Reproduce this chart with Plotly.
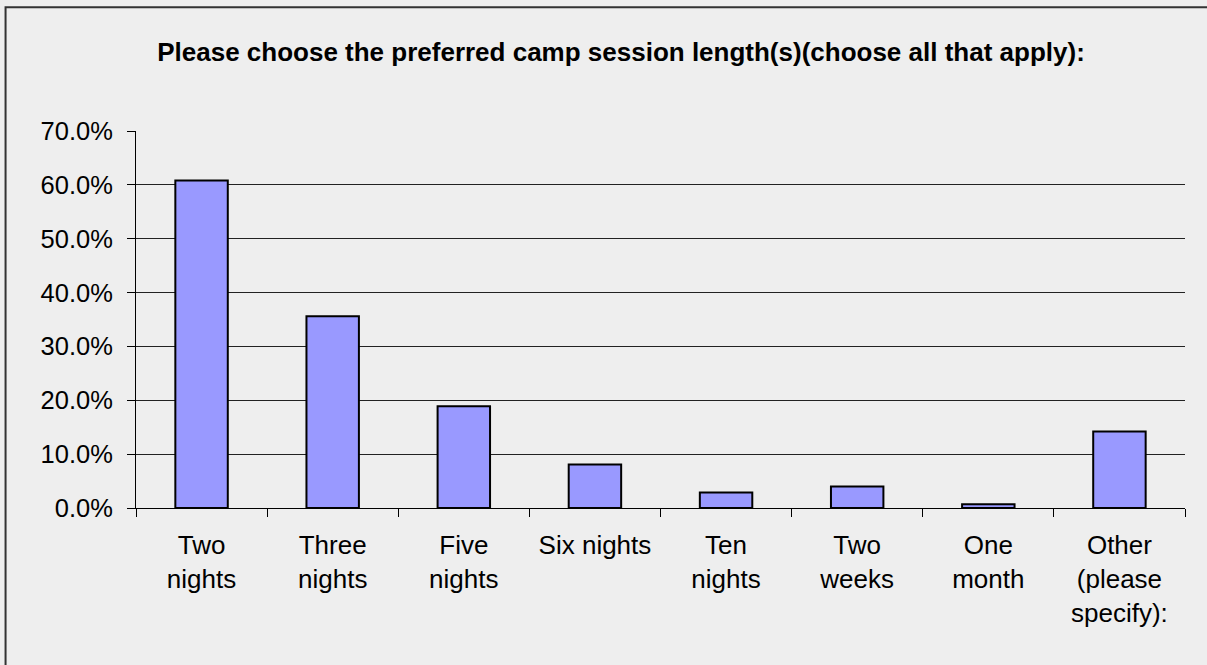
import plotly.graph_objects as go

categories = ["Two<br>nights", "Three<br>nights", "Five<br>nights", "Six nights",
              "Ten<br>nights", "Two<br>weeks", "One<br>month", "Other<br>(please<br>specify):"]
values = [60.8, 35.6, 18.9, 8.1, 2.9, 4.0, 0.7, 14.2]
title_text = "Please choose the preferred camp session length(s)(choose all that apply):"

W, H = 1207, 665
L, R, T, B = 135.5, 22, 130.5, 156.5
pw, ph = W - L - R, H - T - B

fig = go.Figure(go.Bar(
    x=categories, y=values,
    marker=dict(color="#9999ff", line=dict(color="black", width=2)),
))

# outer frame (only top/left edges visible in the picture)
x0 = (5 - L) / pw
y1 = (H - B - 6.5) / ph
fig.add_shape(type="rect", xref="paper", yref="paper",
              x0=x0, x1=2, y0=-2, y1=y1,
              line=dict(color="#333333", width=2), layer="below")

fig.update_layout(
    width=W, height=H,
    margin=dict(l=L, r=R, t=T, b=B),
    paper_bgcolor="#eeeeee", plot_bgcolor="#eeeeee",
    bargap=0.6,
    showlegend=False,
    font=dict(family="Liberation Sans, Arial, sans-serif", size=26, color="black"),
    title=dict(text="<b>" + title_text + "</b>", xref="container", yref="container",
               x=621 / W, y=1 - 52 / H, xanchor="center", yanchor="middle",
               font=dict(size=26, family="Liberation Sans, Arial, sans-serif")),
)
fig.update_xaxes(showline=True, linecolor="black", linewidth=1,
                 ticks="outside", tickson="boundaries", ticklen=8, tickcolor="black",
                 showgrid=False, tickangle=0, ticklabelstandoff=14)
fig.update_yaxes(range=[0, 70], dtick=10, tickformat=".1f", ticksuffix="%",
                 tickfont=dict(size=25.5),
                 showline=True, linecolor="black", linewidth=1,
                 ticks="outside", ticklen=8, tickcolor="black",
                 showgrid=True, gridcolor="#222222", gridwidth=1,
                 zeroline=False, ticklabelstandoff=9)

fig.write_html("out.html", config={"displayModeBar": False},
               post_script="document.body.style.margin='0';")
